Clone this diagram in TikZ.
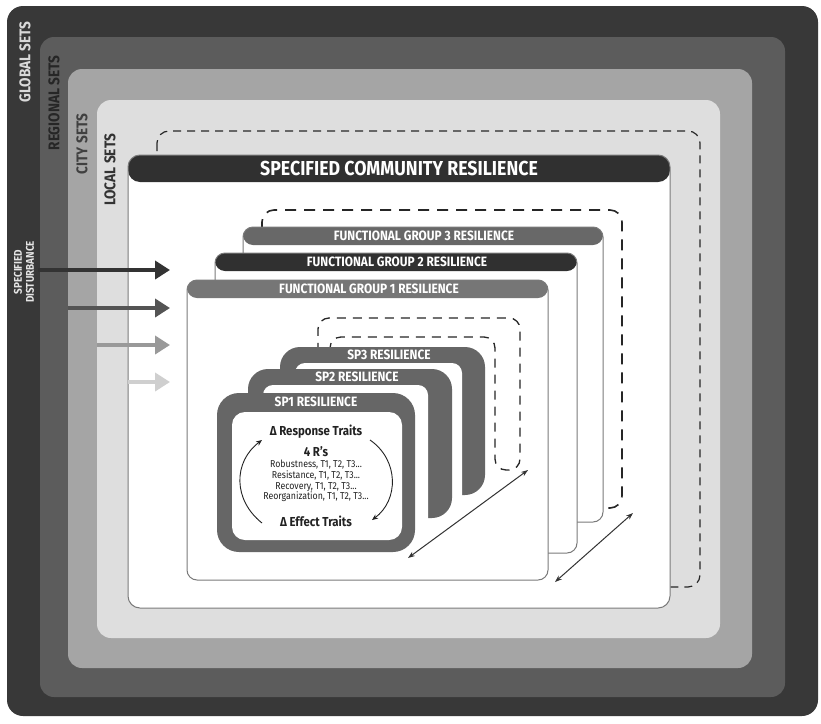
\documentclass[tikz,border=0pt]{standalone}
\usepackage{fontspec}
\setmainfont{Fira Sans}[FakeStretch=0.88]
\usetikzlibrary{arrows.meta}

\definecolor{globalfill}{HTML}{383838}
\definecolor{regionfill}{HTML}{5C5C5C}
\definecolor{cityfill}{HTML}{A5A5A5}
\definecolor{localfill}{HTML}{DEDEDE}
\definecolor{headdark}{HTML}{303030}
\definecolor{headmid}{HTML}{686868}
\definecolor{headlight}{HTML}{767676}
\definecolor{spgray}{HTML}{666666}
\definecolor{panelline}{HTML}{7A7A7A}
\definecolor{inktext}{HTML}{222222}

\tikzset{
  setlabel/.style={font=\bfseries\fontsize{15.5}{15.5}\selectfont, rotate=90},
  panel/.style={fill=white, draw=panelline, line width=1pt, rounded corners=10pt},
  header/.style 2 args={path picture={\fill[#1] (path picture bounding box.north west) rectangle ([yshift=-#2]path picture bounding box.north east);}},
  backbox/.style={draw=black!85, line width=1.4pt, dash pattern=on 9pt off 7pt, rounded corners=12pt},
  headtext/.style={text=white, font=\bfseries\fontsize{13.5}{13.5}\selectfont},
  hit/.style={line width=4pt, -{Triangle[length=15pt, width=18pt]}},
  span/.style={line width=1pt, draw=black!80, {Stealth[length=7pt, width=5pt]}-{Stealth[length=7pt, width=5pt]}},
  turn/.style={line width=0.9pt, draw=inktext, -{Stealth[length=6pt, width=5pt]}},
  traits/.style={text=inktext, font=\bfseries\fontsize{13}{13}\selectfont},
}

\begin{document}
\begin{tikzpicture}[x=1pt, y=-1pt]
  \useasboundingbox (0,0) rectangle (821,723);

  % Nested sets
  \fill[globalfill, rounded corners=16pt] (7,6) rectangle (818,716);
  \fill[regionfill, rounded corners=14pt] (40,37) rectangle (785,697);
  \fill[cityfill, rounded corners=14pt] (68,69) rectangle (752,668);
  \fill[localfill, rounded corners=14pt] (97,100) rectangle (720,638);

  % Set labels
  \node[setlabel, text=white!85!black] (global) at (25,62) {GLOBAL SETS};
  \node[setlabel, text=black!85] (regional) at (54,103) {REGIONAL SETS};
  \node[setlabel, text=black!75] (city) at (82,144) {CITY SETS};
  \node[setlabel, text=black!80] (local) at (110,170) {LOCAL SETS};
  \node[setlabel, font=\bfseries\fontsize{11.2}{12}\selectfont, align=center,
        text=white!90!black] (disturb) at (24,272) {SPECIFIED\\DISTURBANCE};

  % Community
  \draw[backbox, line width=1.2pt, dash pattern=on 8pt off 6pt] (157,131) rectangle (700,587);
  \draw[panel, rounded corners=12pt, header={headdark}{27pt}] (128,155) rectangle (670,608);
  \node[headtext, font=\bfseries\fontsize{20.2}{20.2}\selectfont] (community) at (399,168)
       {SPECIFIED COMMUNITY RESILIENCE};

  % Disturbance arrows
  \coordinate (a1) at (38,270);  \coordinate (b1) at (170,270);
  \coordinate (a2) at (68,308);  \coordinate (b2) at (170,308);
  \coordinate (a3) at (97,345);  \coordinate (b3) at (170,345);
  \coordinate (a4) at (128,382); \coordinate (b4) at (170,382);
  \draw[hit, black!80] (a1) -- (b1);
  \draw[hit, black!67] (a2) -- (b2);
  \draw[hit, black!40] (a3) -- (b3);
  \draw[hit, black!19] (a4) -- (b4);

  % Functional groups
  \draw[backbox, line width=1.6pt, dash pattern=on 11pt off 8pt] (262,210) rectangle (622,508);
  \draw[panel, header={headmid}{18pt}] (243,227) rectangle (603,522);
  \node[headtext] (fg3) at (424,236) {FUNCTIONAL GROUP 3 RESILIENCE};
  \draw[panel, header={headdark}{18pt}] (215,253) rectangle (577,553);
  \node[headtext] (fg2) at (397,262) {FUNCTIONAL GROUP 2 RESILIENCE};
  \draw[panel, header={headlight}{18pt}] (187,280) rectangle (548,580);
  \node[headtext] (fg1) at (369,289) {FUNCTIONAL GROUP 1 RESILIENCE};

  % Species pools
  \draw[backbox, line width=1.3pt, dash pattern=on 9pt off 7pt, rounded corners=11pt]
       (330,480) -- (330,337) -- (495,337) -- (495,470) -- (520,470) -- (520,318) -- (318,318) -- (318,480);
  \fill[spgray, rounded corners=20pt] (280,347) rectangle (485,495);
  \fill[white, rounded corners=10pt] (295,363) rectangle (462,530);
  \node[headtext] (sp3) at (389,355) {SP3 RESILIENCE};
  \fill[spgray, rounded corners=20pt] (248,369) rectangle (452,518);
  \fill[white, rounded corners=10pt] (263,385) rectangle (428,550);
  \node[headtext] (sp2) at (357,377) {SP2 RESILIENCE};
  \fill[spgray, rounded corners=22pt] (217,393) rectangle (415,552);
  \fill[white, rounded corners=13pt] (232,412) rectangle (402,540);
  \node[headtext] (sp1) at (316,402) {SP1 RESILIENCE};

  % Traits
  \node[traits] (response) at (316,432) {Δ Response Traits};
  \node[traits] (fourr) at (316,452) {4 R’s};
  \node[text=inktext, font=\fontsize{10}{10.7}\selectfont, align=center] (rlist) at (316,481)
       {Robustness, T1, T2, T3...\\Resistance, T1, T2, T3...\\Recovery, T1, T2, T3...\\Reorganization, T1, T2, T3...};
  \node[traits] (effect) at (316,521) {Δ Effect Traits};

  % Cycle
  \coordinate (c1) at (262,523); \coordinate (c2) at (262,440);
  \coordinate (c3) at (370,440); \coordinate (c4) at (372,520);
  \draw[turn] (c1) .. controls (233,500) and (233,462) .. (c2);
  \draw[turn] (c3) .. controls (399,460) and (399,500) .. (c4);

  % Spans
  \coordinate (d1) at (408,558); \coordinate (d2) at (528,470);
  \draw[span] (d1) -- (d2);
  \coordinate (e1) at (555,582); \coordinate (e2) at (633,513);
  \draw[span] (e1) -- (e2);
\end{tikzpicture}
\end{document}
